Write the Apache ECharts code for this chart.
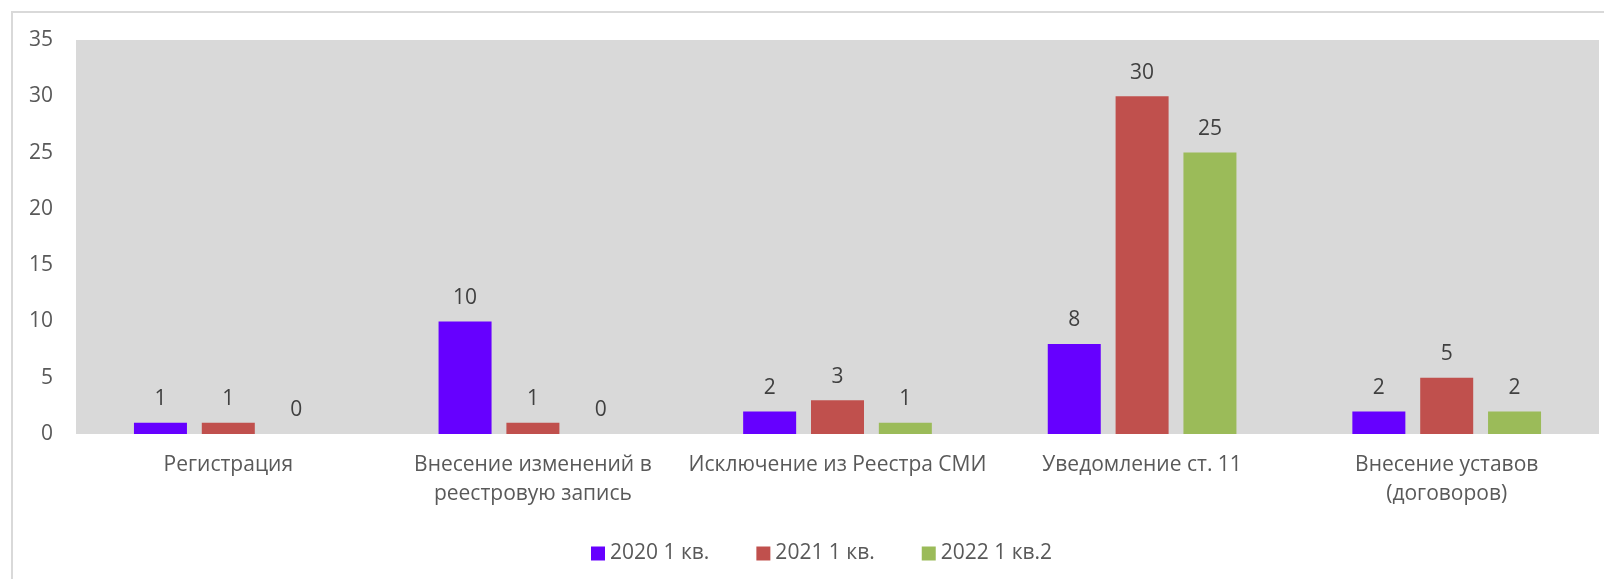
<!DOCTYPE html>
<html>
<head>
<meta charset="utf-8">
<script src="https://cdn.jsdelivr.net/npm/echarts@6/dist/echarts.min.js"></script>
<style>
  html, body { margin: 0; padding: 0; background: #fff; }
  #chart { width: 1604px; height: 579px; }
</style>
</head>
<body>
<div id="chart"></div>
<script>
// категории (с переносами как в исходнике)
const categories = [
  'Регистрация',
  'Внесение изменений в\nреестровую запись',
  'Исключение из Реестра СМИ',
  'Уведомление ст. 11',
  'Внесение уставов\n(договоров)'
]
const seriesNames = ['2020 1 кв.', '2021 1 кв.', '2022 1 кв.2']
const data2020 = [1, 10, 2, 8, 2]
const data2021 = [1, 1, 3, 30, 5]
const data2022 = [0, 0, 1, 25, 2]
const colors = ['#6600ff', '#c0504d', '#9bbb59']

const font = '"Open Sans", "DejaVu Sans", sans-serif'

const chart = echarts.init(document.getElementById('chart'))

const makeSeries = (name, data, i) => ({
  name: name,
  type: 'bar',
  data: data,
  barWidth: 53,
  barGap: '28%',
  itemStyle: { color: colors[i] },
  label: {
    show: true,
    position: 'top',
    distance: 13,
    color: '#404040',
    fontSize: 21,
    fontFamily: font
  },
  animation: false
})

chart.setOption({
  textStyle: { fontFamily: font },
  graphic: [{
    type: 'rect',
    shape: { x: 12, y: 12, width: 1700, height: 700 },
    style: { fill: 'none', stroke: '#d9d9d9', lineWidth: 2 },
    silent: true,
    z: -1
  }],
  legend: {
    data: seriesNames,
    left: 586,
    top: 538,
    itemWidth: 14,
    itemHeight: 14,
    itemGap: 47,
    icon: 'rect',
    textStyle: { color: '#595959', fontSize: 21, fontFamily: font }
  },
  grid: {
    left: 76,
    right: 5,
    top: 40,
    bottom: 145,
    show: true,
    backgroundColor: '#d9d9d9',
    borderWidth: 0
  },
  xAxis: {
    type: 'category',
    data: categories,
    axisLine: { show: false },
    axisTick: { show: false },
    axisLabel: {
      interval: 0,
      margin: 17,
      color: '#595959',
      fontSize: 21,
      lineHeight: 29,
      fontFamily: font
    }
  },
  yAxis: {
    type: 'value',
    min: 0,
    max: 35,
    interval: 5,
    splitLine: { show: false },
    axisLine: { show: false },
    axisTick: { show: false },
    axisLabel: {
      margin: 23,
      color: '#595959',
      fontSize: 21,
      fontFamily: font
    }
  },
  series: [
    makeSeries(seriesNames[0], data2020, 0),
    makeSeries(seriesNames[1], data2021, 1),
    makeSeries(seriesNames[2], data2022, 2)
  ]
})
</script>
</body>
</html>
